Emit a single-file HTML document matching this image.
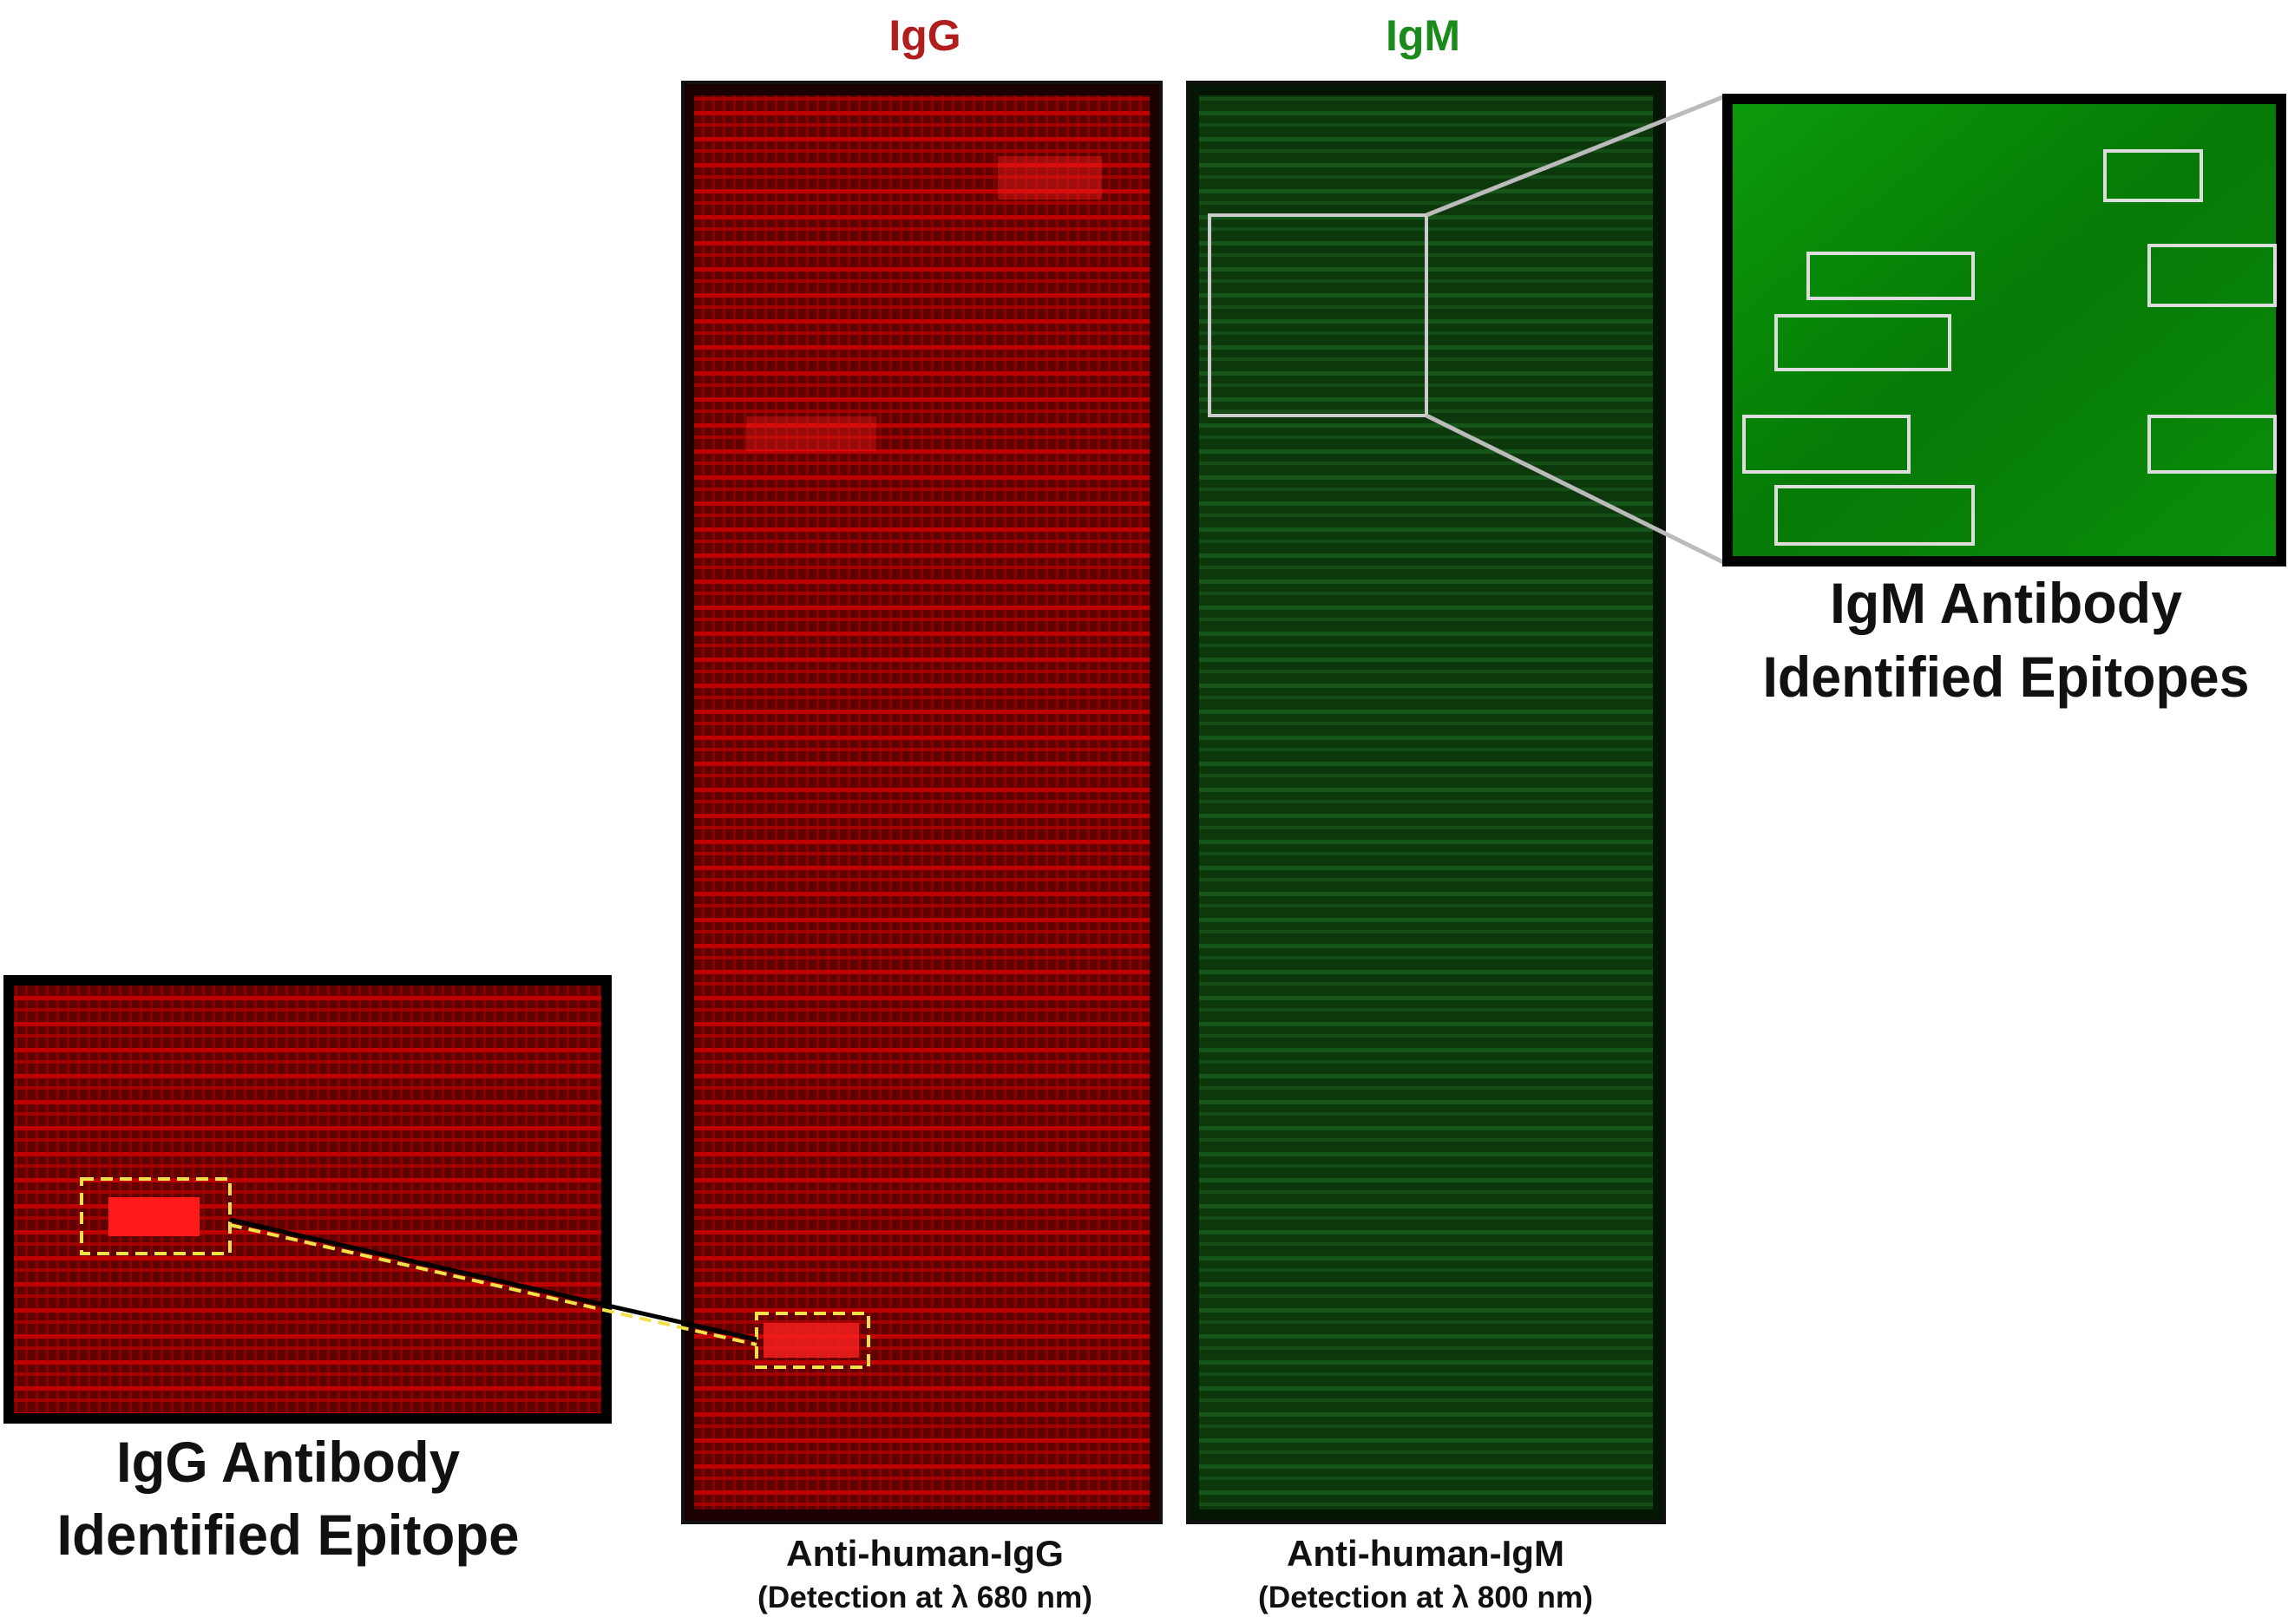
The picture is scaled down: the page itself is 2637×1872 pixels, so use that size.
<!DOCTYPE html>
<html><head><meta charset="utf-8"><style>
html,body{margin:0;padding:0;background:#fff}
svg{display:block}
text{font-family:"Liberation Sans",sans-serif;font-weight:bold}
</style></head><body>
<svg width="2637" height="1872" viewBox="0 0 2637 1872">
<defs>
<pattern id="rstripe" width="12" height="30" patternUnits="userSpaceOnUse">
<rect width="12" height="30" fill="#600000"/>
<rect y="8" width="12" height="5" fill="#c00000"/>
<rect y="22" width="12" height="4" fill="#a00000"/>
<rect x="5" width="3" height="30" fill="#b00000" opacity="0.5"/>
</pattern>
<pattern id="gstripe" width="12" height="30" patternUnits="userSpaceOnUse">
<rect width="12" height="30" fill="#0c380c"/>
<rect y="8" width="12" height="5" fill="#17561a"/>
<rect y="22" width="12" height="4" fill="#144d16"/>
</pattern>
<linearGradient id="gz" x1="0" y1="0" x2="1" y2="1">
<stop offset="0" stop-color="#0a9a0a"/><stop offset="0.5" stop-color="#067a06"/><stop offset="1" stop-color="#0b8f0b"/>
</linearGradient>
</defs>

<text x="1066" y="58" font-size="50" fill="#b01e1e" text-anchor="middle">IgG</text>
<text x="1640" y="58" font-size="50" fill="#1a8a1a" text-anchor="middle">IgM</text>

<g>
<rect x="787" y="95" width="551" height="1660" fill="#1a0000"/>
<rect x="800" y="110" width="525" height="1630" fill="url(#rstripe)"/>
<rect x="1150" y="180" width="120" height="50" fill="#ff2020" opacity="0.4"/>
<rect x="860" y="480" width="150" height="40" fill="#ff2020" opacity="0.35"/>
<rect x="880" y="1525" width="110" height="40" fill="#ff2020" opacity="0.8"/>
<rect x="787" y="95" width="551" height="1660" fill="none" stroke="#111" stroke-width="4"/>
</g>

<g>
<rect x="1369" y="95" width="549" height="1660" fill="#051605"/>
<rect x="1382" y="110" width="523" height="1630" fill="url(#gstripe)"/>
<rect x="1369" y="95" width="549" height="1660" fill="none" stroke="#111" stroke-width="4"/>
</g>

<rect x="1394" y="248" width="250" height="231" fill="none" stroke="#ccc" stroke-width="4"/>
<line x1="1644" y1="248" x2="1988" y2="111" stroke="#bbb" stroke-width="5"/>
<line x1="1644" y1="479" x2="1988" y2="649" stroke="#bbb" stroke-width="5"/>

<g>
<rect x="1985" y="108" width="650" height="545" fill="#000"/>
<rect x="1997" y="120" width="626" height="521" fill="url(#gz)"/>
<g fill="none" stroke="#ddd" stroke-width="4">
<rect x="2426" y="174" width="111" height="57"/>
<rect x="2084" y="292" width="190" height="52"/>
<rect x="2477" y="283" width="145" height="69"/>
<rect x="2047" y="364" width="200" height="62"/>
<rect x="2010" y="480" width="190" height="64"/>
<rect x="2477" y="480" width="145" height="64"/>
<rect x="2047" y="561" width="227" height="66"/>
</g>
</g>
<text x="2312" y="718" font-size="66" fill="#111" text-anchor="middle" textLength="406" lengthAdjust="spacingAndGlyphs">IgM Antibody</text>
<text x="2312" y="803" font-size="66" fill="#111" text-anchor="middle" textLength="561" lengthAdjust="spacingAndGlyphs">Identified Epitopes</text>

<g>
<rect x="4" y="1124" width="701" height="517" fill="#000"/>
<rect x="16" y="1136" width="677" height="493" fill="url(#rstripe)"/>
<rect x="125" y="1380" width="105" height="45" fill="#ff1a1a"/>
</g>
<rect x="872" y="1514" width="129" height="62" fill="none" stroke="#f2e24a" stroke-width="4" stroke-dasharray="14,8"/>
<rect x="94" y="1359" width="171" height="86" fill="none" stroke="#f2e24a" stroke-width="4" stroke-dasharray="14,8"/>
<line x1="265" y1="1406" x2="872" y2="1544" stroke="#000" stroke-width="5"/>
<line x1="265" y1="1412" x2="872" y2="1550" stroke="#f2e24a" stroke-width="4" stroke-dasharray="14,8"/>

<text x="332" y="1708" font-size="66" fill="#111" text-anchor="middle" textLength="396" lengthAdjust="spacingAndGlyphs">IgG Antibody</text>
<text x="332" y="1792" font-size="66" fill="#111" text-anchor="middle" textLength="533" lengthAdjust="spacingAndGlyphs">Identified Epitope</text>

<text x="1066" y="1805" font-size="42" fill="#111" text-anchor="middle" textLength="320" lengthAdjust="spacingAndGlyphs">Anti-human-IgG</text>
<text x="1066" y="1853" font-size="35" fill="#111" text-anchor="middle" textLength="386" lengthAdjust="spacingAndGlyphs">(Detection at λ 680 nm)</text>
<text x="1643" y="1805" font-size="42" fill="#111" text-anchor="middle" textLength="320" lengthAdjust="spacingAndGlyphs">Anti-human-IgM</text>
<text x="1643" y="1853" font-size="35" fill="#111" text-anchor="middle" textLength="386" lengthAdjust="spacingAndGlyphs">(Detection at λ 800 nm)</text>
</svg>
</body></html>
